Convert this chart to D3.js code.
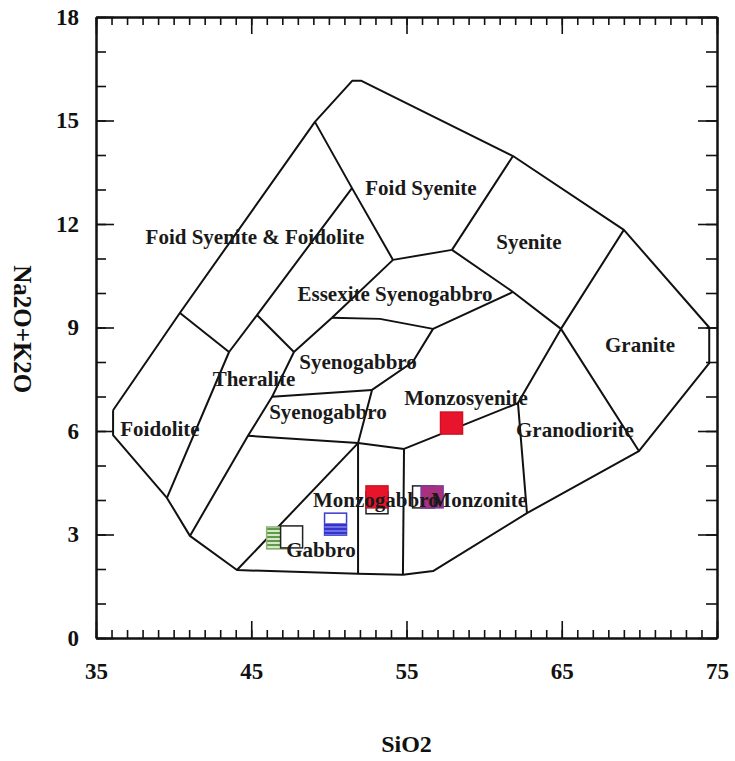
<html>
<head><meta charset="utf-8"></head>
<body style="margin:0;background:#fff">
<svg id="chart" width="735" height="761"></svg>
<script src="https://d3js.org/d3.v7.min.js"></script>
<script>
// axis ticks
const xTicks = [35, 45, 55, 65, 75]
const yTicks = [0, 3, 6, 9, 12, 15, 18]

// outer limit of the classification fields (SiO2, Na2O+K2O)
const outline = [[36.1, 6.6], [40.4, 9.42], [49.1, 14.96], [51.5, 16.15], [52.1, 16.15], [61.86, 13.97],
  [69.0, 11.83], [74.5, 9.0], [74.5, 7.97], [69.97, 5.42], [62.76, 3.62], [56.71, 1.94], [54.77, 1.83],
  [51.88, 1.86], [44.08, 1.97], [41.05, 2.96], [39.57, 4.06], [36.1, 5.88], [36.1, 6.6]]

// inner field boundaries
const boundaries = [
  [[40.41, 9.42], [43.57, 8.29]],
  [[39.57, 4.06], [43.57, 8.29], [45.37, 9.36], [51.49, 13.04]],
  [[45.37, 9.36], [47.75, 8.29]],
  [[49.1, 14.96], [51.49, 13.04], [54.13, 10.96]],
  [[54.13, 10.96], [57.93, 11.25], [61.86, 13.97]],
  [[57.93, 11.25], [61.86, 10.03], [64.95, 8.96], [69.97, 5.42]],
  [[69.0, 11.83], [64.95, 8.96], [62.18, 6.81], [62.76, 3.62]],
  [[54.13, 10.96], [50.2, 9.28], [47.75, 8.29], [46.34, 6.99], [44.79, 5.86], [41.05, 2.96]],
  [[50.2, 9.28], [53.29, 9.25], [56.71, 8.96], [61.86, 10.03]],
  [[56.71, 8.96], [55.4, 8.0], [52.78, 7.19]],
  [[46.34, 6.99], [52.78, 7.19]],
  [[52.78, 7.19], [51.88, 5.65], [51.88, 1.86]],
  [[44.79, 5.86], [51.88, 5.65], [54.84, 5.48], [62.18, 6.81]],
  [[54.84, 5.48], [54.77, 1.83]],
  [[51.88, 5.65], [44.08, 1.97]]
]

// field names and where they sit
const fieldNames = ["Foid Syenite", "Foid Syenite & Foidolite", "Syenite", "Essexite Syenogabbro", "Granite",
  "Syenogabbro", "Theralite", "Monzosyenite", "Syenogabbro", "Foidolite", "Granodiorite",
  "Monzogabbro", "Monzonite", "Gabbro"]
const fieldSiO2 = [55.93, 45.24, 62.89, 54.26, 70.04, 51.88, 45.18, 58.83, 49.94, 39.12, 65.85, 48.98, 62.76, 49.49]
const fieldAlk = [13.04, 11.62, 11.48, 9.97, 8.49, 8.0, 7.51, 6.96, 6.55, 6.06, 6.03, 4.0, 4.0, 2.55]

// samples
const greenSamples = [[46.7, 2.9]]
const openSamples = [[53.1, 3.92], [56.1, 4.09], [47.6, 2.93]]
const redSamples = [[57.9, 6.23], [53.1, 4.09]]
const purpleSamples = [[56.65, 4.09]]
const blueSamples = [[50.43, 3.3]]

let svg = d3.select("#chart")
let x = d3.scaleLinear().domain([35, 75]).range([96, 717])
let y = d3.scaleLinear().domain([0, 18]).range([638, 17])
const font = "'Liberation Serif', 'Times New Roman', serif"

let defs = svg.append("defs")
let gp = defs.append("pattern").attr("id", "greenStripe").attr("patternUnits", "userSpaceOnUse")
  .attr("width", 4).attr("height", 4)
gp.append("rect").attr("width", 4).attr("height", 4).attr("fill", "#d6e8c8")
gp.append("rect").attr("width", 4).attr("height", 2).attr("fill", "#5f9a4c")
let bp = defs.append("pattern").attr("id", "blueStripe").attr("patternUnits", "userSpaceOnUse")
  .attr("width", 4).attr("height", 4)
bp.append("rect").attr("width", 4).attr("height", 4).attr("fill", "#6f6fe8")
bp.append("rect").attr("width", 4).attr("height", 2).attr("fill", "#3434c8")

// axes: minor ticks every unit, longer ticks at labelled values
function styleAxis(g) {
  g.select(".domain").attr("stroke", "#111").attr("stroke-width", 2)
  g.selectAll(".tick line").attr("stroke", "#111").attr("stroke-width", 1.6)
  g.selectAll("text").attr("font-family", font).attr("font-weight", "bold")
    .attr("font-size", 23).attr("fill", "#111")
}
let minorX = d3.range(35, 76)
let minorY = d3.range(0, 19)
svg.append("g").attr("transform", `translate(0,${y(0)})`)
  .call(d3.axisBottom(x).tickValues(minorX).tickSizeInner(-8).tickSizeOuter(0).tickFormat("")).call(styleAxis)
svg.append("g").attr("transform", `translate(0,${y(0)})`)
  .call(d3.axisBottom(x).tickValues(xTicks).tickSizeInner(-17).tickSizeOuter(0).tickPadding(25)).call(styleAxis)
svg.append("g").attr("transform", `translate(0,${y(18)})`)
  .call(d3.axisTop(x).tickValues(minorX).tickSizeInner(-8).tickSizeOuter(0).tickFormat("")).call(styleAxis)
svg.append("g").attr("transform", `translate(0,${y(18)})`)
  .call(d3.axisTop(x).tickValues(xTicks).tickSizeInner(-17).tickSizeOuter(0).tickFormat("")).call(styleAxis)
svg.append("g").attr("transform", `translate(${x(35)},0)`)
  .call(d3.axisLeft(y).tickValues(minorY).tickSizeInner(-10).tickSizeOuter(0).tickFormat("")).call(styleAxis)
svg.append("g").attr("transform", `translate(${x(35)},0)`)
  .call(d3.axisLeft(y).tickValues(yTicks).tickSizeInner(-18).tickSizeOuter(0).tickPadding(17)).call(styleAxis)
svg.append("g").attr("transform", `translate(${x(75)},0)`)
  .call(d3.axisRight(y).tickValues(minorY).tickSizeInner(-11).tickSizeOuter(0).tickFormat("")).call(styleAxis)
svg.append("g").attr("transform", `translate(${x(75)},0)`)
  .call(d3.axisRight(y).tickValues(yTicks).tickSizeInner(-19).tickSizeOuter(0).tickFormat("")).call(styleAxis)

// axis titles
svg.append("text").attr("x", x(55)).attr("y", 752).attr("text-anchor", "middle")
  .attr("font-family", font).attr("font-weight", "bold").attr("font-size", 24).attr("fill", "#111")
  .text("SiO2")
svg.append("text").attr("transform", `translate(14,${y(8.95)}) rotate(90)`).attr("text-anchor", "middle")
  .attr("font-family", font).attr("font-weight", "bold").attr("font-size", 25).attr("fill", "#111")
  .text("Na2O+K2O")

// field boundaries
let line = d3.line().x(d => x(d[0])).y(d => y(d[1]))
let body = svg.append("g")
body.append("path").datum(outline).attr("d", line)
  .attr("fill", "none").attr("stroke", "#111").attr("stroke-width", 2).attr("stroke-linejoin", "round")
body.selectAll(".bound").data(boundaries).enter().append("path").attr("class", "bound")
  .attr("d", line).attr("fill", "none").attr("stroke", "#111").attr("stroke-width", 2)
  .attr("stroke-linejoin", "round")

// samples
const size = 22
function squares(data, fill, stroke) {
  return body.append("g").selectAll("rect").data(data).enter().append("rect")
    .attr("x", d => x(d[0]) - size / 2).attr("y", d => y(d[1]) - size / 2)
    .attr("width", size).attr("height", size)
    .attr("fill", fill).attr("stroke", stroke).attr("stroke-width", 1.5)
}
squares(greenSamples, "url(#greenStripe)", "#8fb27a")
squares(openSamples, "#fff", "#222")
squares(redSamples, "#e8142c", "#d01025")
squares(purpleSamples, "#a8307e", "#7a3aa0")
squares(blueSamples, "#fff", "#3a3ad0")
body.append("g").selectAll("rect").data(blueSamples).enter().append("rect")
  .attr("x", d => x(d[0]) - size / 2).attr("y", d => y(d[1]) - size / 2 + size * 0.45)
  .attr("width", size).attr("height", size * 0.55).attr("fill", "url(#blueStripe)")

// field names
const anchors = { 11: "start", 12: "end" }
svg.append("g").selectAll("text").data(fieldNames).enter().append("text")
  .attr("x", (d, i) => x(fieldSiO2[i])).attr("y", (d, i) => y(fieldAlk[i]))
  .attr("dy", "0.35em").attr("text-anchor", (d, i) => anchors[i] || "middle")
  .attr("font-family", font).attr("font-weight", "bold").attr("font-size", 21).attr("fill", "#1a1a1a")
  .text(d => d)
</script>
</body>
</html>
